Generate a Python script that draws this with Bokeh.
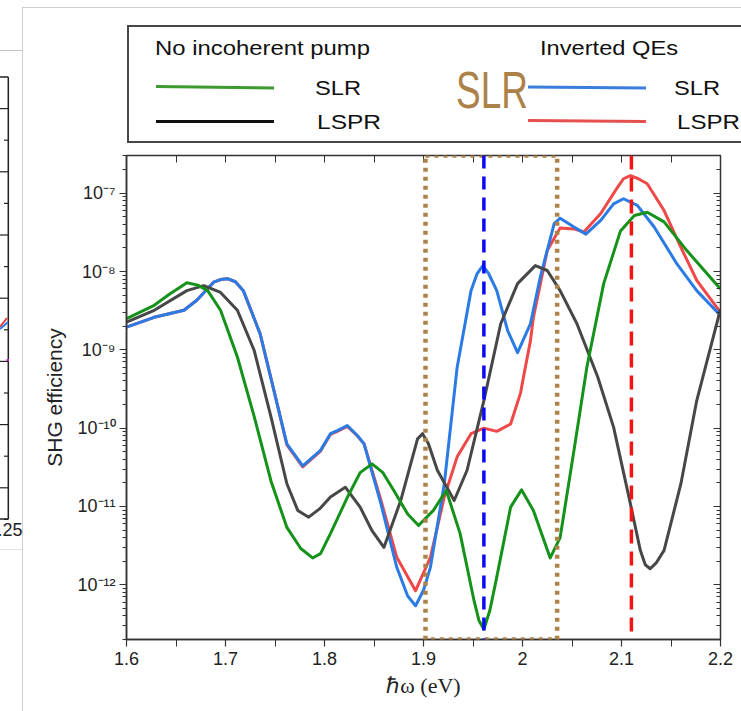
import html as _html
from bokeh.plotting import figure
from bokeh.models import (Range1d, FixedTicker, LinearAxis, LogAxis, Span, Div,
                          BoxAnnotation, CustomJSTickFormatter, CustomLabelingPolicy)
from bokeh.layouts import row, column
from bokeh.embed import file_html
from bokeh.resources import INLINE

# ---------------- data ----------------
green_x = [1.600, 1.628, 1.644, 1.661, 1.672, 1.682, 1.695, 1.712, 1.729, 1.746, 1.762,
           1.776, 1.788, 1.796, 1.806, 1.823, 1.836, 1.848, 1.859, 1.870, 1.884,
           1.895, 1.910, 1.923, 1.937, 1.951, 1.956, 1.961, 1.967, 1.974, 1.988, 1.999, 2.011,
           2.028, 2.038, 2.052, 2.065, 2.082, 2.099, 2.113, 2.126, 2.143, 2.166,
           2.200]
green_y = [2.5e-9, 3.7e-9, 5.2e-9, 7.2e-9, 6.7e-9, 5.7e-9, 3.2e-9, 8.1e-10, 1.4e-10, 2.1e-11, 5.4e-12,
           2.9e-12, 2.2e-12, 2.5e-12, 4.5e-12, 1.3e-11, 2.7e-11, 3.5e-11, 2.7e-11, 1.6e-11, 8.0e-12,
           5.7e-12, 8.9e-12, 1.6e-11, 4.5e-12, 6.3e-13, 3.5e-13, 2.7e-13, 4.7e-13, 1.25e-12, 9.8e-12, 1.63e-11, 8.9e-12,
           2.2e-12, 4.0e-12, 5.2e-11, 6.0e-10, 7.0e-9, 3.3e-8, 5.2e-8, 5.7e-8, 4.3e-8, 1.85e-8,
           6.0e-9]

black_x = [1.600, 1.628, 1.661, 1.678, 1.695, 1.712, 1.729, 1.746, 1.762, 1.773,
           1.784, 1.795, 1.806, 1.821, 1.836, 1.848, 1.860, 1.877, 1.889, 1.894, 1.899, 1.905,
           1.914, 1.931, 1.944, 1.961, 1.978, 1.995, 2.013, 2.025, 2.038, 2.055,
           2.076, 2.092, 2.109, 2.119, 2.124, 2.129, 2.135, 2.143, 2.160, 2.176, 2.200]
black_y = [2.25e-9, 3.2e-9, 5.7e-9, 6.6e-9, 5.4e-9, 3.2e-9, 9.8e-10, 1.38e-10, 1.95e-11, 8.9e-12,
           7.3e-12, 9.3e-12, 1.32e-11, 1.76e-11, 9.8e-12, 4.9e-12, 3.0e-12, 1.19e-11, 4.3e-11, 7.3e-11, 8.5e-11, 6.3e-11,
           2.9e-11, 1.19e-11, 2.9e-11, 2.25e-10, 2.15e-9, 7.0e-9, 1.19e-8, 1.03e-8, 5.7e-9, 2.15e-9,
           4.5e-10, 1.03e-10, 1.08e-11, 2.75e-12, 1.8e-12, 1.6e-12, 1.9e-12, 2.75e-12, 1.95e-11, 2.25e-10, 3.3e-9]

blue_x = [1.600, 1.628, 1.658, 1.671, 1.688, 1.695, 1.702, 1.710, 1.718, 1.735, 1.749, 1.762,
          1.778, 1.796, 1.806, 1.813, 1.823, 1.833, 1.840, 1.857, 1.873, 1.884, 1.892, 1.900, 1.907, 1.921,
          1.934, 1.948, 1.954, 1.960, 1.966, 1.974, 1.985, 1.995, 2.008, 2.018, 2.032, 2.038,
          2.052, 2.064, 2.079, 2.092, 2.102, 2.116, 2.133, 2.156, 2.176, 2.200]
blue_y = [1.95e-9, 2.6e-9, 3.2e-9, 4.3e-9, 7.3e-9, 7.9e-9, 8.1e-9, 7.4e-9, 5.7e-9, 1.6e-9, 3.0e-10, 6.3e-11,
          3.3e-11, 5.2e-11, 8.5e-11, 9.3e-11, 1.08e-10, 8.1e-11, 6.3e-11, 1.08e-11, 1.67e-12, 7.2e-13, 5.4e-13, 8.5e-13, 1.67e-12, 1.95e-11,
          6.0e-10, 5.7e-9, 9.3e-9, 1.19e-8, 9.3e-9, 5.7e-9, 1.76e-9, 9.2e-10, 2.15e-9, 8.5e-9, 4.1e-8, 4.8e-8,
          3.7e-8, 3.0e-8, 4.5e-8, 7.3e-8, 8.5e-8, 7.0e-8, 3.7e-8, 1.25e-8, 5.7e-9, 2.75e-9]

red_x = [1.600, 1.628, 1.658, 1.671, 1.688, 1.695, 1.702, 1.710, 1.718, 1.735, 1.749, 1.762,
         1.778, 1.796, 1.806, 1.813, 1.823, 1.833, 1.840, 1.857, 1.873, 1.892, 1.907, 1.921,
         1.934, 1.948, 1.961, 1.974, 1.988, 1.998, 2.001, 2.008, 2.011, 2.025,
         2.038, 2.052, 2.062, 2.079, 2.096, 2.102, 2.109, 2.117, 2.126, 2.143, 2.160, 2.176,
         2.200]
red_y = [1.95e-9, 2.6e-9, 3.2e-9, 4.3e-9, 7.3e-9, 7.9e-9, 8.1e-9, 7.4e-9, 5.7e-9, 1.6e-9, 3.0e-10, 6.1e-11,
         3.2e-11, 5.1e-11, 8.3e-11, 9.1e-11, 1.05e-10, 8.0e-11, 6.3e-11, 1.2e-11, 2.24e-12, 8.4e-13, 2.24e-12, 1.32e-11,
         4.3e-11, 8.5e-11, 1.0e-10, 9.1e-11, 1.13e-10, 2.8e-10, 4.5e-10, 1.3e-9, 2.6e-9, 1.85e-8,
         3.6e-8, 3.5e-8, 3.2e-8, 5.5e-8, 1.19e-7, 1.53e-7, 1.68e-7, 1.53e-7, 1.32e-7, 6.0e-8, 2.04e-8, 7.7e-9,
         3.0e-9]

# marker lines / highlighted region (eV)
slr_energy = 1.961
lspr_energy = 2.110
box_left = 1.902
box_right = 2.035

x_ticks = [1.6, 1.7, 1.8, 1.9, 2.0, 2.1, 2.2]
x_minor_ticks = [1.65, 1.75, 1.85, 1.95, 2.05, 2.15]
y_ticks = [1e-12, 1e-11, 1e-10, 1e-9, 1e-8, 1e-7]
y_minor_ticks = [m * 10.0 ** e for e in range(-13, -6) for m in range(2, 10)]

legend_left_title = "No incoherent pump"
legend_right_title = "Inverted QEs"
series_labels = ["SLR", "LSPR"]
highlight_label = "SLR"

# ---------------- styling ----------------
C_GREEN = "#15921a"
C_BLACK = "#474747"
C_BLUE = "#2a7be4"
C_RED = "#f04848"
C_BROWN = "#ad8248"
AX = "#333333"
SANS_NAME = "Liberation Sans"


def svg_text(x, y, s, size, fill, length=None, family=SANS_NAME, weight="normal",
             anchor="start"):
    tl = f' textLength="{length}" lengthAdjust="spacingAndGlyphs"' if length else ""
    return (f'<text x="{x}" y="{y}" font-family="{family}" font-size="{size}px" '
            f'font-weight="{weight}" fill="{fill}" text-anchor="{anchor}" '
            f'dominant-baseline="central"{tl}>{_html.escape(s)}</text>')


def svg_line(x1, y1, x2, y2, color, w):
    return (f'<line x1="{x1}" y1="{y1}" x2="{x2}" y2="{y2}" stroke="{color}" '
            f'stroke-width="{w}"/>')


# ---------------- left strip: edge of the neighbouring slide panel ----------------
STRIP_W, PAGE_H = 23, 711
strip_parts = [svg_line(0, 50.5, 22.5, 50.5, "#c4c4c4", 1),
               svg_line(22.5, 7, 22.5, PAGE_H, "#cfcfcf", 1),
               svg_line(0, 549.5, 22.5, 549.5, "#e2e2e2", 1),
               svg_line(8.3, 77, 8.3, 519, "#222222", 1.5),
               svg_line(0, 77, 8.3, 77, "#222222", 1.5),
               svg_line(0, 519, 8.3, 519, "#222222", 1.5),
               svg_line(0, 327, 7, 318, "#e84040", 2),
               svg_line(0, 329, 8, 322, C_BLUE, 2),
               '<rect x="6.5" y="359" width="2.5" height="2.5" fill="#e020e0"/>']
tick_y = 77.0
k = 0
while tick_y < 517:
    tick_y += 31.6
    strip_parts.append(svg_line(0 if k % 2 == 0 else 4, round(tick_y, 1), 8.3,
                                round(tick_y, 1), "#222222", 1.2))
    k += 1
strip_parts.append(svg_text(22.5, 530, "2.25", 18, "#222222", anchor="end"))
strip = Div(text=f'<svg xmlns="http://www.w3.org/2000/svg" width="{STRIP_W}" height="{PAGE_H}" '
                 f'style="display:block">{"".join(strip_parts)}</svg>',
            width=STRIP_W, height=PAGE_H, margin=0)

# ---------------- header: legend box (page x offset 23) ----------------
HEAD_W, HEAD_H = 718, 147
o = STRIP_W
head_parts = [svg_line(0, 7.5, HEAD_W, 7.5, "#cfcfcf", 1),
              f'<rect x="{128 - o}" y="26" width="700" height="116" fill="white" '
              f'stroke="#474747" stroke-width="2"/>',
              svg_text(155 - o, 47.5, legend_left_title, 21, "#111111", length=215),
              svg_text(540 - o, 47.5, legend_right_title, 21, "#111111", length=138),
              svg_line(156 - o, 86.5, 274 - o, 88, "#3c9a2e", 3),
              svg_line(156 - o, 121.5, 274 - o, 121.5, "#111111", 3),
              svg_line(528 - o, 87, 646 - o, 88, "#3b7ddd", 3),
              svg_line(528 - o, 120.5, 646 - o, 121.5, "#e5504f", 3),
              svg_text(315 - o, 87.5, series_labels[0], 21, "#111111", length=46),
              svg_text(317 - o, 121.7, series_labels[1], 21, "#111111", length=64),
              svg_text(674 - o, 87.5, series_labels[0], 21, "#111111", length=46),
              svg_text(677 - o, 121.7, series_labels[1], 21, "#111111", length=63),
              svg_text(456 - o, 90, highlight_label, 52, C_BROWN, length=72,
                       family="Open Sans", weight="300")]
head = Div(text=f'<svg xmlns="http://www.w3.org/2000/svg" width="{HEAD_W}" height="{HEAD_H}" '
                f'style="display:block">{"".join(head_parts)}</svg>',
           width=HEAD_W, height=HEAD_H, margin=0)

# ---------------- main plot ----------------
p = figure(width=718, height=564, x_range=Range1d(1.6, 2.2),
           y_range=Range1d(2.0e-13, 3.03e-7), y_axis_type="log",
           toolbar_location=None, output_backend="svg",
           min_border_left=103, min_border_right=21, min_border_top=8,
           min_border_bottom=72, outline_line_color=AX, outline_line_width=1.5)
p.grid.visible = False

p.xaxis.ticker = FixedTicker(ticks=x_ticks, minor_ticks=x_minor_ticks)
p.yaxis.ticker = FixedTicker(ticks=y_ticks, minor_ticks=y_minor_ticks)
p.yaxis.formatter = CustomJSTickFormatter(code="""
const sup = {"-": "\u207b", "0": "\u2070", "1": "\u00b9", "2": "\u00b2", "3": "\u00b3",
             "4": "\u2074", "5": "\u2075", "6": "\u2076", "7": "\u2077", "8": "\u2078", "9": "\u2079"};
const e = Math.round(Math.log10(tick));
return "10" + String(e).split("").map(c => sup[c]).join("");
""")

for ax in (p.xaxis[0], p.yaxis[0]):
    ax.axis_line_color = AX
    ax.axis_line_width = 1.5
    ax.major_tick_line_color = AX
    ax.minor_tick_line_color = AX
    ax.major_tick_line_width = 1.2
    ax.minor_tick_line_width = 1.0
    ax.major_tick_in = 0
    ax.minor_tick_in = 0
    ax.major_label_text_font = SANS_NAME
    ax.major_label_text_font_size = "18px"
    ax.major_label_text_color = "#222222"

p.xaxis.major_tick_out = 7
p.xaxis.minor_tick_out = 7
p.xaxis.major_label_standoff = 5
p.xaxis.axis_label = "\u210f\u03c9 (eV)"
p.xaxis.axis_label_text_font = "Liberation Serif"
p.xaxis.axis_label_text_font_style = "normal"
p.xaxis.axis_label_text_font_size = "22px"
p.xaxis.axis_label_text_color = "#222222"
p.xaxis.axis_label_standoff = 5

p.yaxis.major_tick_out = 7
p.yaxis.minor_tick_out = 4
p.yaxis.major_label_standoff = 4
p.yaxis.axis_label = "SHG efficiency"
p.yaxis.axis_label_text_font = SANS_NAME
p.yaxis.axis_label_text_font_style = "normal"
p.yaxis.axis_label_text_font_size = "21px"
p.yaxis.axis_label_text_color = "#222222"
p.yaxis.axis_label_standoff = 8

hide_all = CustomLabelingPolicy(code="""
const all = [...indices];
for (const i of all) indices.unset(i);
""")
top_axis = LinearAxis(ticker=FixedTicker(ticks=x_ticks, minor_ticks=x_minor_ticks),
                      major_tick_in=7, major_tick_out=0, minor_tick_in=7, minor_tick_out=0,
                      major_label_text_font_size="1px", major_label_policy=hide_all,
                      axis_line_color=AX, major_tick_line_color=AX,
                      minor_tick_line_color=AX, major_label_standoff=0)
p.add_layout(top_axis, "above")
right_axis = LogAxis(ticker=FixedTicker(ticks=y_ticks, minor_ticks=y_minor_ticks),
                     major_tick_in=7, major_tick_out=0, minor_tick_in=4, minor_tick_out=0,
                     major_label_text_font_size="1px", major_label_policy=hide_all,
                     axis_line_color=AX, major_tick_line_color=AX,
                     minor_tick_line_color=AX, major_label_standoff=0)
p.add_layout(right_axis, "right")

# highlighted region and marker lines
p.add_layout(BoxAnnotation(left=box_left, right=box_right, fill_alpha=0, line_alpha=1.0,
                           line_color=C_BROWN, line_width=4.5, line_dash="4 5"))
p.add_layout(Span(location=slr_energy, dimension="height", line_color="#0a0af5",
                  line_width=3.5, line_dash="13 8"))
p.add_layout(Span(location=lspr_energy, dimension="height", line_color="#f51414",
                  line_width=3.5, line_dash="14 8"))

p.line(red_x, red_y, line_color=C_RED, line_width=3, line_join="round")
p.line(blue_x, blue_y, line_color=C_BLUE, line_width=3, line_join="round")
p.line(black_x, black_y, line_color=C_BLACK, line_width=3, line_join="round")
p.line(green_x, green_y, line_color=C_GREEN, line_width=3, line_join="round")

layout = row(strip, column(head, p, spacing=0), spacing=0)

with open("out.html", "w", encoding="utf-8") as f:
    f.write(file_html(layout, INLINE))
